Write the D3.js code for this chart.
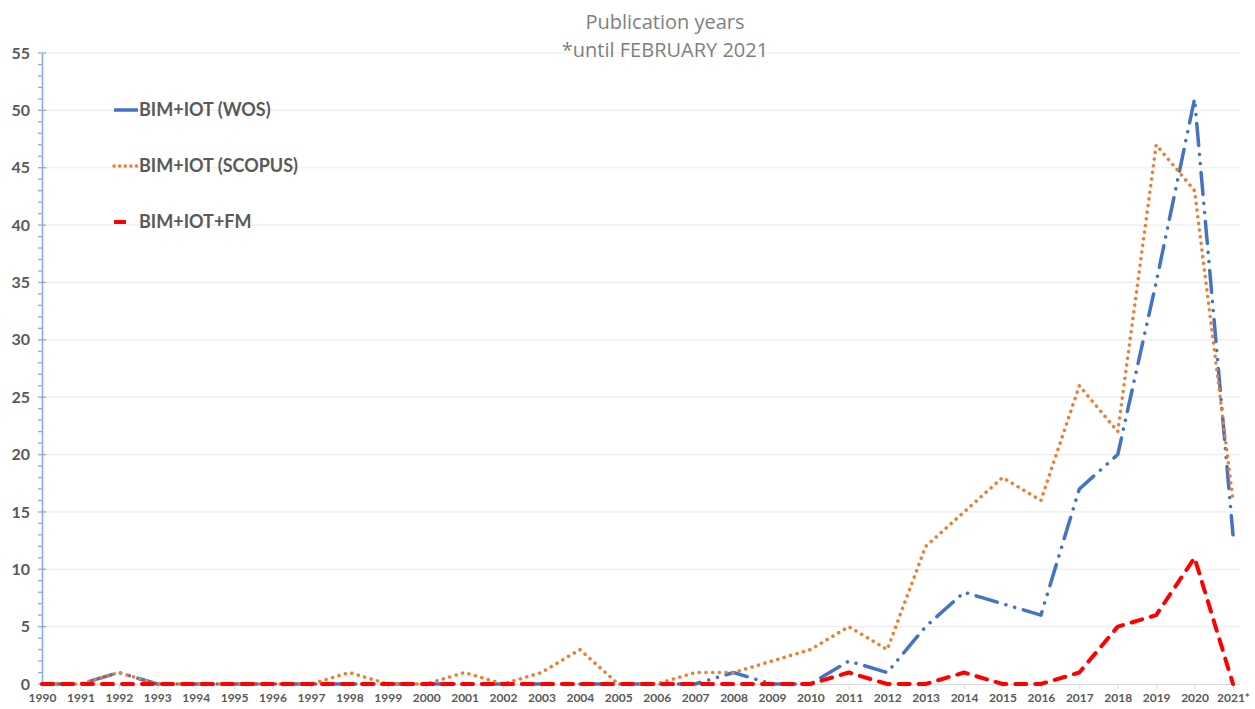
<!DOCTYPE html>
<html>
<head>
<meta charset="utf-8">
<script src="https://cdn.jsdelivr.net/npm/d3@7"></script>
<style>
  html, body { margin: 0; padding: 0; background: #fff; }
  svg { display: block; }
</style>
</head>
<body>
<div id="chart"></div>
<script>
// Data
const years = ["1990","1991","1992","1993","1994","1995","1996","1997","1998","1999",
  "2000","2001","2002","2003","2004","2005","2006","2007","2008","2009",
  "2010","2011","2012","2013","2014","2015","2016","2017","2018","2019","2020","2021*"];

const wos = [0,0,1,0,0,0,0,0,0,0, 0,0,0,0,0,0,0,0,1,0, 0,2,1,5,8,7,6,17,20,35,51,13];
const scopus = [0,0,1,0,0,0,0,0,1,0, 0,1,0,1,3,0,0,1,1,2, 3,5,3,12,15,18,16,26,22,47,43,16];
const fm = [0,0,0,0,0,0,0,0,0,0, 0,0,0,0,0,0,0,0,0,0, 0,1,0,0,1,0,0,1,5,6,11,0];

const yTicks = [0,5,10,15,20,25,30,35,40,45,50,55];

const series = [
  { name: "BIM+IOT (WOS)", values: wos, color: "#4472C4", dash: "22,9,0.1,9,0.1,9", width: 3.5, legendDash: null, legendLen: 24 },
  { name: "BIM+IOT (SCOPUS)", values: scopus, color: "#ED7D31", dash: "0.1,6.6", width: 3.5, legendDash: "0.1,5.5", legendLen: 24 },
  { name: "BIM+IOT+FM", values: fm, color: "#FF0000", dash: "11,9", width: 4, legendDash: null, legendLen: 12 }
];

const width = 1255;
const height = 709;
const margin = { top: 53, right: 22, bottom: 25, left: 42 };

const svg = d3.select("#chart")
  .append("svg")
  .attr("width", width)
  .attr("height", height);

const x = d3.scalePoint()
  .domain(years)
  .range([margin.left, width - margin.right]);

const y = d3.scaleLinear()
  .domain([0, 55])
  .range([height - margin.bottom, margin.top]);

// gridlines
svg.append("g")
  .selectAll("line")
  .data(yTicks.filter(d => d > 0))
  .join("line")
  .attr("x1", margin.left)
  .attr("x2", width - 15)
  .attr("y1", d => y(d))
  .attr("y2", d => y(d))
  .attr("stroke", "#ececec")
  .attr("stroke-width", 1.2);

// title
svg.append("g")
  .attr("font-family", "'Open Sans', sans-serif")
  .attr("font-size", "20px")
  .attr("fill", "#7f7f7f")
  .attr("text-anchor", "middle")
  .selectAll("text")
  .data(["Publication years", "*until FEBRUARY 2021"])
  .join("text")
  .attr("x", 665)
  .attr("y", (d, i) => 29 + i * 28)
  .text(d => d);

// x axis
const xAxis = g => g
  .attr("transform", `translate(0,${y(0)})`)
  .call(d3.axisBottom(x).tickSize(5).tickPadding(4))
  .call(g => g.select(".domain").attr("d", `M${margin.left},0.5H${width - 15}`).attr("stroke", "#d9d9d9"))
  .call(g => g.selectAll(".tick line").attr("stroke", "#d9d9d9"))
  .call(g => g.selectAll("text")
    .attr("font-family", "Lato, sans-serif")
    .attr("font-weight", "bold")
    .attr("font-size", "12px")
    .attr("fill", "#595959"));

svg.append("g").call(xAxis);

// y axis minor ticks
svg.append("g")
  .selectAll("line")
  .data(d3.range(0, 56))
  .join("line")
  .attr("x1", margin.left - 4)
  .attr("x2", d => d % 5 === 0 ? margin.left + 4 : margin.left)
  .attr("y1", d => y(d))
  .attr("y2", d => y(d))
  .attr("stroke", "#8FAADC")
  .attr("stroke-width", 1.3);

// y axis
const yAxis = g => g
  .attr("transform", `translate(${margin.left},0)`)
  .call(d3.axisLeft(y).tickValues(yTicks).tickSize(0).tickPadding(12))
  .call(g => g.select(".domain").attr("stroke", "#8FAADC").attr("stroke-width", 1.6))
  .call(g => g.selectAll("text")
    .attr("font-family", "Lato, sans-serif")
    .attr("font-weight", "bold")
    .attr("font-size", "16px")
    .attr("fill", "#595959"));

svg.append("g").call(yAxis);

// lines
const line = d3.line()
  .x((d, i) => x(years[i]))
  .y(d => y(d));

svg.append("g")
  .selectAll("path")
  .data(series)
  .join("path")
  .attr("d", d => line(d.values))
  .attr("fill", "none")
  .attr("stroke", d => d.color)
  .attr("stroke-width", d => d.width)
  .attr("stroke-dasharray", d => d.dash)
  .attr("stroke-linecap", "round")
  .attr("stroke-linejoin", "round");

// legend
const legend = svg.append("g")
  .selectAll("g")
  .data(series)
  .join("g")
  .attr("transform", (d, i) => `translate(114,${110 + i * 56})`);

legend.append("line")
  .attr("x1", 0)
  .attr("x2", d => d.legendLen)
  .attr("stroke", d => d.color)
  .attr("stroke-width", d => d.width)
  .attr("stroke-dasharray", d => d.legendDash)
  .attr("stroke-linecap", d => d.legendDash ? "round" : "butt");

legend.append("text")
  .attr("x", 25)
  .attr("dy", "0.35em")
  .attr("font-family", "Lato, sans-serif")
  .attr("font-weight", "bold")
  .attr("font-size", "18px")
  .attr("fill", "#595959")
  .text(d => d.name);
</script>
</body>
</html>
